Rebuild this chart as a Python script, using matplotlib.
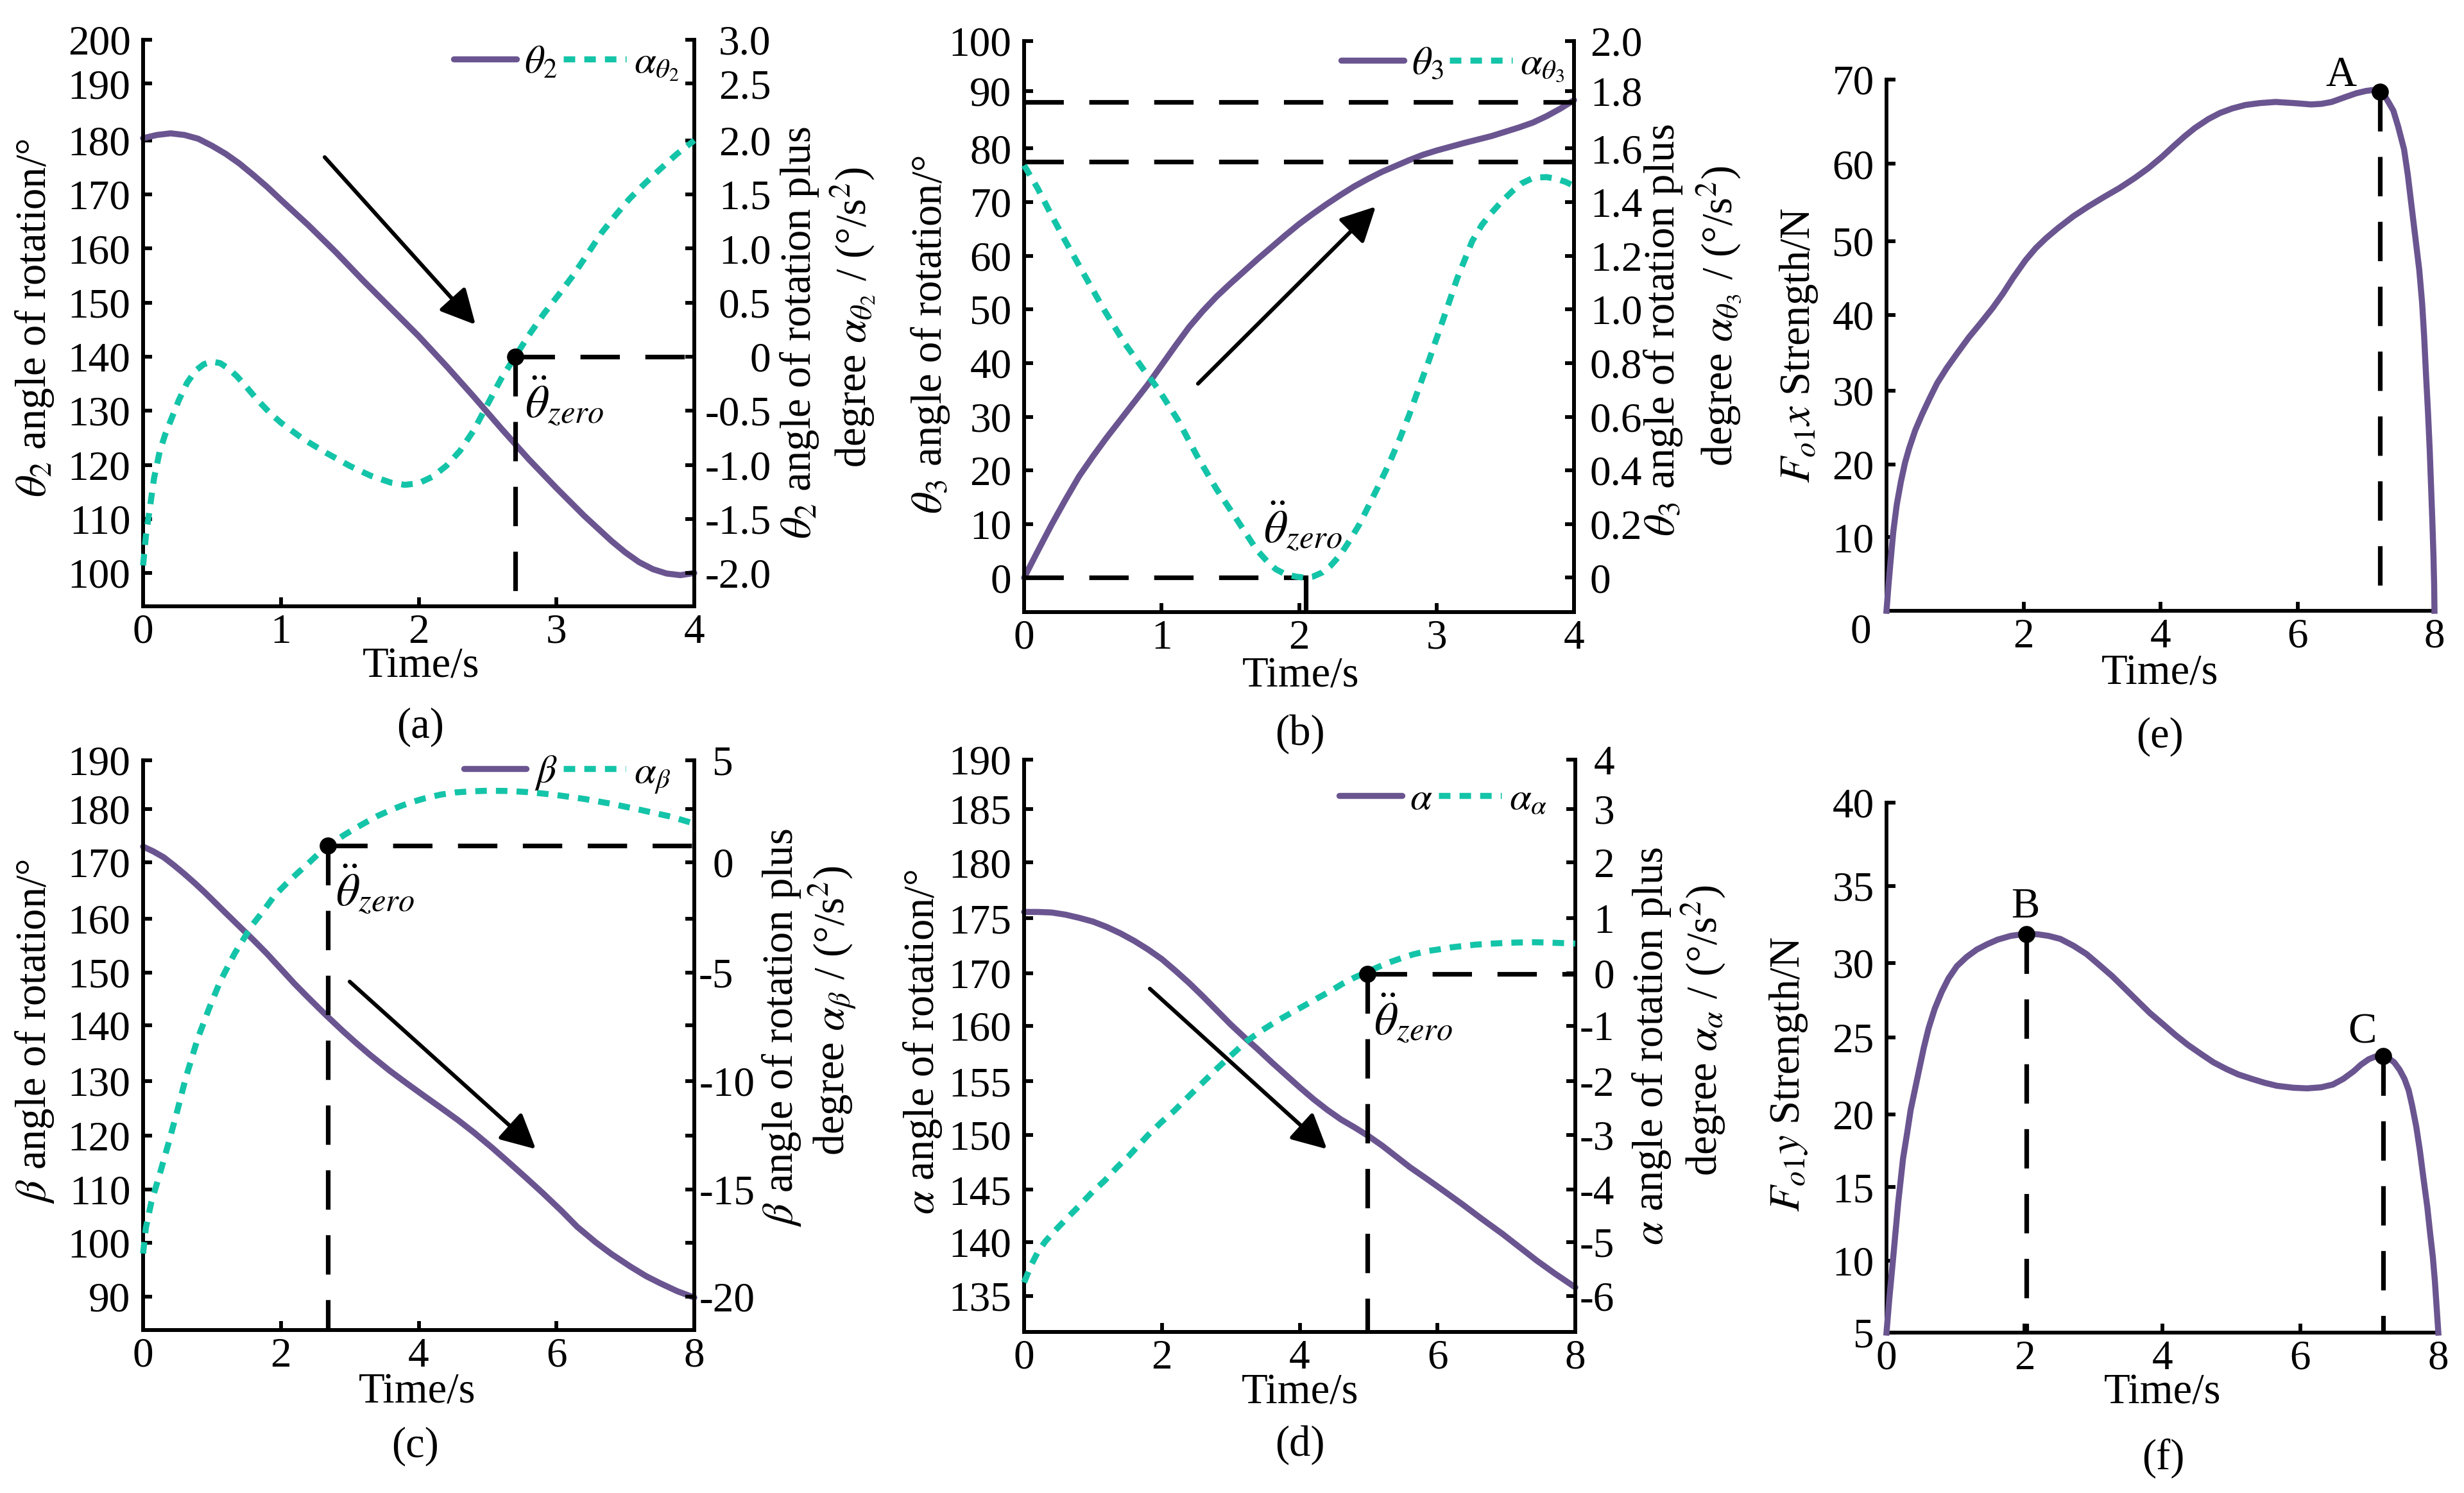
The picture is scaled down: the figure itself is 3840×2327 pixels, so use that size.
#!/usr/bin/env python
# -*- coding: utf-8 -*-
"""Six panels: joint angles with angular acceleration, and the two force curves."""
import matplotlib
matplotlib.use('Agg')
import matplotlib.pyplot as plt

plt.rcParams['font.family'] = ['Liberation Serif', 'DejaVu Sans']
plt.rcParams['mathtext.fontset'] = 'stix'

W, H = 3840, 2327
PURPLE = '#6A5590'
TEAL = '#14C4A8'
TICK_FS = 23.5
LABEL_FS = 24

# ============================================================
# data
# ============================================================
a_t = [0, .1, .2, .3, .4, .5, .6, .7, .8, .9, 1.0, 1.2, 1.4, 1.6, 1.8, 2.0, 2.2, 2.4, 2.6, 2.8, 3.0, 3.2, 3.4, 3.5, 3.6, 3.7, 3.8, 3.9, 4]
a_theta = [180.4, 181, 181.3, 181, 180.3, 179, 177.5, 175.7, 173.6, 171.4, 169, 164.3, 159.3, 154, 148.9, 143.8, 138.3, 132.6, 126.7, 121, 115.7, 110.6, 105.9, 103.8, 102, 100.7, 99.9, 99.6, 100]
a_acc_t = [0, .02, .05, .08, .12, .16, .21, .26, .32, .38, .44, .5, .56, .62, .68, .75, .83, .92, 1.0, 1.16, 1.33, 1.5, 1.65, 1.8, 1.9,
           2.0, 2.1, 2.2, 2.3, 2.4, 2.5, 2.6, 2.7, 2.8, 2.91, 3.02, 3.12, 3.22, 3.33, 3.43, 3.53, 3.64, 3.74, 3.87, 4]
a_acc = [-1.93, -1.66, -1.39, -1.12, -.88, -.72, -.56, -.40, -.24, -.13, -.07, -.045, -.06, -.11, -.18, -.28, -.40, -.52, -.61, -.76, -.89, -1.01, -1.10, -1.165, -1.185,
         -1.17, -1.11, -1.01, -.87, -.68, -.44, -.2, 0, .2, .4, .58, .75, .94, 1.15, 1.31, 1.46, 1.6, 1.72, 1.87, 2.0]

b_t = [0, .1, .2, .3, .4, .5, .6, .7, .8, .9, 1.0, 1.1, 1.2, 1.3, 1.4, 1.5, 1.6, 1.7, 1.8, 1.9, 2.0, 2.1, 2.2, 2.3, 2.4, 2.5, 2.6, 2.7, 2.8, 2.9, 3.0, 3.2, 3.4, 3.6, 3.7, 3.8, 3.9, 4]
b_theta = [0, 5, 9.9, 14.5, 18.9, 22.6, 26.1, 29.4, 32.7, 36, 39.6, 43.2, 46.7, 49.7, 52.4, 54.8, 57.1, 59.4, 61.6, 63.8, 65.9, 67.8, 69.6, 71.3, 72.9, 74.3, 75.6, 76.7, 77.8, 78.8, 79.6, 81, 82.3, 83.9, 84.8, 86, 87.4, 89]
b_acc_t = [0, .1, .2, .3, .44, .58, .73, .87, .98, 1.12, 1.26, 1.4, 1.55, 1.69, 1.77, 1.83, 1.9, 1.98, 2.05, 2.1, 2.17, 2.23, 2.3, 2.37, 2.44, 2.51, 2.58, 2.655, 2.73,
           2.8, 2.87, 2.94, 3.05, 3.15, 3.26, 3.33, 3.4, 3.47, 3.55, 3.62, 3.69, 3.75, 3.8, 3.87, 3.94, 4]
b_acc = [1.537, 1.45, 1.35, 1.255, 1.127, 1.0, .875, .775, .70, .587, .452, .33, .215, .105, .06, .032, .013, .004, 0, .004, .02, .045, .085, .14, .2, .272, .345, .425, .515,
         .605, .705, .803, .965, 1.115, 1.255, 1.315, 1.36, 1.40, 1.44, 1.47, 1.487, 1.492, 1.493, 1.487, 1.475, 1.46]

c_t = [0, .15, .3, .45, .6, .75, .9, 1.05, 1.2, 1.4, 1.6, 1.8, 2.0, 2.2, 2.4, 2.66, 2.9, 3.1, 3.3, 3.58, 3.8, 4.08, 4.3, 4.57, 4.8, 5.07, 5.3, 5.57, 5.8, 6.07, 6.3, 6.57, 6.8, 7.07, 7.3, 7.5, 7.75, 8]
c_beta = [173.9, 173, 171.9, 170.4, 168.8, 167.1, 165.3, 163.4, 161.5, 159, 156.5, 153.9, 151.1, 148.3, 145.7, 142.4, 139.5, 137.2, 135, 132.1, 130.0, 127.4, 125.4, 122.9, 120.6, 117.7, 115.1, 112, 109.3, 106, 103, 100.1, 97.9, 95.6, 93.8, 92.5, 91, 89.8]
c_acc_t = [0, .04, .12, .25, .37, .5, .62, .79, .96, 1.12, 1.33, 1.58, 1.75, 1.91, 2.08, 2.245, 2.4, 2.58, 2.75, 2.91, 3.08, 3.24, 3.4, 3.58, 3.75, 3.91,
           4.1, 4.32, 4.53, 4.74, 5.0, 5.3, 5.57, 5.8, 6, 6.4, 6.8, 7.2, 7.65, 8]
c_acc = [-18, -16.8, -15.6, -14.2, -12.85, -11.3, -9.8, -8.0, -6.55, -5.3, -4.0, -2.7, -2.0, -1.3, -.75, -.25, .2, .75, 1.15, 1.5, 1.83, 2.12, 2.4, 2.66, 2.88, 3.06,
         3.24, 3.4, 3.5, 3.55, 3.58, 3.57, 3.52, 3.45, 3.38, 3.2, 2.97, 2.7, 2.38, 2.05]

# the printed scale of (d) jumps from 160 to 170, so its values are kept on the even scale below
d_t = [0, .2, .4, .6, .8, 1.0, 1.2, 1.4, 1.6, 1.8, 2.0, 2.2, 2.4, 2.6, 2.8, 3.0, 3.2, 3.4, 3.6, 3.8, 4.0, 4.2, 4.4, 4.6, 4.8, 5.0, 5.2, 5.4, 5.6, 5.87, 6.1, 6.37, 6.65, 6.94, 7.2, 7.44, 7.7, 8]
d_alpha = [170.8, 170.8, 170.75, 170.55, 170.25, 169.9, 169.4, 168.8, 168.1, 167.3, 166.4, 165.3, 164.15, 162.9, 161.6, 160.3, 159.1, 157.95, 156.75, 155.6, 154.45, 153.35, 152.35, 151.45, 150.7, 149.9, 149.0, 148.0, 147, 145.8, 144.75, 143.5, 142.15, 140.8, 139.5, 138.3, 137.1, 135.8]
d_acc_t = [0, .1, .2, .31, .45, .6, .8, 1.0, 1.17, 1.35, 1.52, 1.8, 2.0, 2.17, 2.45, 2.65, 2.8, 3.0, 3.23, 3.45, 3.66, 3.88, 4.09, 4.27, 4.44, 4.62, 4.8, 4.98,
           5.15, 5.3, 5.48, 5.65, 5.85, 6.01, 6.2, 6.37, 6.55, 6.72, 6.95, 7.15, 7.4, 7.6, 8]
d_acc = [-5.75, -5.43, -5.18, -4.98, -4.78, -4.58, -4.32, -4.05, -3.85, -3.6, -3.39, -3.0, -2.75, -2.56, -2.2, -1.95, -1.76, -1.52, -1.25, -1.05, -.88, -.72, -.57, -.44, -.32, -.18, -.06, .04,
         .14, .22, .3, .37, .43, .46, .5, .525, .55, .565, .58, .59, .595, .59, .57]

e_t = [0, .03, .06, .1, .15, .21, .27, .33, .42, .52, .63, .74, .88, 1.03, 1.2, 1.4, 1.55, 1.7, 1.85, 2.03, 2.18, 2.33, 2.5, 2.73, 2.95, 3.17, 3.4, 3.62, 3.82, 4.02,
       4.2, 4.35, 4.5, 4.7, 4.87, 5.05, 5.24, 5.45, 5.68, 5.95, 6.2, 6.35, 6.5, 6.7, 6.86, 7.0, 7.1, 7.2, 7.27, 7.33, 7.4, 7.47, 7.556, 7.61, 7.667, 7.73, 7.778, 7.82, 7.85, 7.877, 7.904, 7.93, 7.948, 7.968, 7.985, 7.995, 8]
e_force = [0, 3.5, 6.6, 10.5, 14, 17, 19.5, 21.4, 23.8, 25.9, 28, 30, 32, 33.9, 36, 38.2, 39.9, 41.8, 43.9, 46.2, 47.8, 49.1, 50.4, 52, 53.3, 54.5, 55.7, 57, 58.3, 59.8,
           61.3, 62.5, 63.6, 64.8, 65.6, 66.2, 66.65, 66.9, 67.05, 66.9, 66.72, 66.8, 67.05, 67.7, 68.2, 68.5, 68.62, 68.4, 67.9, 67, 65.9, 63.8, 60.8, 57.5, 53.2, 48.5, 44.9, 40.5, 36, 31, 26.4, 21.3, 16.9, 12, 7.3, 3.5, 0]

f_t = [0, .04, .1, .17, .24, .3, .35, .41, .47, .54, .61, .7, .8, .9, 1.02, 1.16, 1.31, 1.46, 1.61, 1.8, 2.03, 2.2, 2.35, 2.52, 2.71, 2.9, 3.08, 3.27, 3.45, 3.64, 3.82, 4.0, 4.19, 4.37, 4.56, 4.74, 4.93,
       5.1, 5.3, 5.48, 5.66, 5.9, 6.1, 6.3, 6.47, 6.62, 6.77, 6.88, 6.99, 7.08, 7.18, 7.27, 7.36, 7.44, 7.51, 7.57, 7.62, 7.68, 7.73, 7.79, 7.84, 7.88, 7.92, 7.95, 7.975, 8]
f_force = [5, 7.2, 10.1, 13.6, 16.5, 18.2, 19.7, 21, 22.3, 23.8, 25.1, 26.4, 27.5, 28.4, 29.2, 29.8, 30.3, 30.65, 30.95, 31.2, 31.35, 31.3, 31.2, 31, 30.55, 30, 29.3, 28.55, 27.75, 26.9, 26.1, 25.4, 24.65, 24, 23.4, 22.85, 22.4,
           22.05, 21.75, 21.5, 21.3, 21.17, 21.13, 21.2, 21.38, 21.75, 22.25, 22.7, 23.05, 23.22, 23.28, 23.15, 22.85, 22.35, 21.75, 21, 20, 18.6, 17.1, 15, 13.3, 11.6, 10, 8.4, 6.7, 5]

a_yticklabels = ['100', '110', '120', '130', '140', '150', '160', '170', '180', '190', '200']
a_rlabels = ['-2.0', '-1.5', '-1.0', '-0.5', '0', '0.5', '1.0', '1.5', '2.0', '2.5', '3.0']
b_yticklabels = ['0', '10', '20', '30', '40', '50', '60', '70', '80', '90', '100']
b_rlabels = ['0', '0.2', '0.4', '0.6', '0.8', '1.0', '1.2', '1.4', '1.6', '1.8', '2.0']
c_yticklabels = ['90', '100', '110', '120', '130', '140', '150', '160', '170', '180', '190']
c_rlabels = ['-20', '', '-15', '', '-10', '', '-5', '', '0', '', '5']
d_yticklabels = ['135', '140', '145', '150', '155', '160', '170', '175', '180', '185', '190']
d_rlabels = ['-6', '-5', '-4', '-3', '-2', '-1', '0', '1', '2', '3', '4']
e_yticklabels = ['10', '20', '30', '40', '50', '60', '70']
f_yticklabels = ['5', '10', '15', '20', '25', '30', '35', '40']

# where the ticks sit on each scale (the printed ones are not quite even)
a_ypos = [100, 110, 120, 130, 140, 150, 160, 170, 180, 190.5, 198.6]
b_ypos = [0, 10, 20, 30, 40, 50, 60, 70, 80, 90.7, 100]
c_ypos = [90, 100, 110, 120, 130.2, 140.6, 150.4, 160.5, 171, 180.9, 190]
d_ypos = [135, 140, 144.9, 150, 155, 160.2, 165.1, 170.2, 175.4, 180.4, 185]
e_ypos = [9.7, 19.3, 29, 39, 48.7, 58.9, 70]
f_ypos = [5, 9.75, 14.6, 19.4, 24.5, 29.4, 34.5, 40]


# ============================================================
# helpers: layout was measured in image pixels
# ============================================================
def fx(px):
    return px / W


def fy(py):
    return 1 - py / H


def make_axes(left, right, top, bottom, xlim, ylim, xticks):
    ax = fig.add_axes([fx(left), fy(bottom), fx(right - left), (bottom - top) / H])
    ax.set_xlim(*xlim)
    ax.set_ylim(*ylim)
    ax.set_xticks(xticks)
    ax.spines['top'].set_visible(False)
    for s in ax.spines.values():
        s.set_linewidth(2.1)
    ax.tick_params(direction='in', length=5, width=2.1, labelsize=TICK_FS, pad=7)
    ax.tick_params(axis='x', pad=4)
    return ax


def make_twin(ax, to_right, ylim_left, ticks, labels):
    ax2 = ax.twinx()
    ax2.set_ylim(to_right(ylim_left[0]), to_right(ylim_left[1]))
    ax2.set_yticks([to_right(p) for p in ticks])
    ax2.set_yticklabels(labels)
    ax2.spines['top'].set_visible(False)
    for s in ax2.spines.values():
        s.set_linewidth(2.1)
    ax2.tick_params(direction='in', length=5, width=2.1, labelsize=TICK_FS)
    return ax2


def put_text(px, py, s, fs=LABEL_FS, rot=0):
    fig.text(fx(px), fy(py), s, fontsize=fs, rotation=rot, ha='center', va='center')


def put_arrow(x0, y0, x1, y1):
    ax_top = fig.axes[-1]
    ax_top.annotate('', xy=(fx(x1), fy(y1)), xytext=(fx(x0), fy(y0)),
                    xycoords='figure fraction', textcoords='figure fraction',
                    arrowprops=dict(arrowstyle='-|>,head_length=0.55,head_width=0.28', color='black',
                                    lw=2.2, mutation_scale=30, shrinkA=0, shrinkB=0))


def two_lines(ax, ax2, t, y, t2, y2, lab1, lab2, lx, ly):
    l1, = ax.plot(t, y, color=PURPLE, lw=3.4, solid_capstyle='round', solid_joinstyle='round', clip_on=False, zorder=3)
    l2, = ax2.plot(t2, y2, color=TEAL, lw=3.4, dashes=(1.9, 1.5), clip_on=False, zorder=3)
    ax2.legend([l1, l2], [lab1, lab2], loc='center', bbox_to_anchor=(fx(lx), fy(ly)),
               bbox_transform=fig.transFigure, ncol=2, frameon=False, fontsize=22,
               handlelength=1.6, handletextpad=0.2, columnspacing=0.15, borderpad=0, borderaxespad=0)


DASH = dict(color='black', lw=2.6, dashes=(8.5, 5.5), zorder=4)

fig = plt.figure(figsize=(W / 200, H / 200), dpi=200)

# ============================================================
# (a)
# ============================================================
ylim = (93.84, 198.6)
ax = make_axes(223, 1082, 62, 945, (0, 4), ylim, [0, 1, 2, 3, 4])
ax.set_yticks(a_ypos)
ax.set_yticklabels(a_yticklabels)
ax2 = make_twin(ax, lambda p: -2 + (p - 100) / 20, ylim, a_ypos, a_rlabels)
plt.setp(ax2.get_yticklabels(), ha='right')
ax2.tick_params(pad=43)
two_lines(ax, ax2, a_t, a_theta, a_acc_t, a_acc, r'$\theta_2$', r'$\alpha_{\theta_2}$', 883, 100)
ax2.plot([2.7, 2.7], [0, -2.308], **DASH)
ax2.plot([2.7, 4], [0, 0], **DASH)
ax2.plot(2.7, 0, 'o', color='black', ms=8.6, zorder=6, clip_on=False)
put_text(880, 625, r'$\ddot{\theta}_{zero}$', 26)
put_text(54, 495, r'$\theta_2$ angle of rotation/°', rot=90)
put_text(1246, 519, r'$\theta_2$ angle of rotation plus', rot=90)
put_text(1330, 495, r'degree $\alpha_{\theta_2}$ / (°/s$^2$)', rot=90)
put_text(656, 1039, 'Time/s')
put_text(655, 1133, '(a)')
put_arrow(506, 245, 741, 506)

# ============================================================
# (b)
# ============================================================
ylim = (-6.4, 100)
ax = make_axes(1596, 2453, 64, 954, (0, 4), ylim, [0, 1, 2, 3, 4])
ax.set_yticks(b_ypos)
ax.set_yticklabels(b_yticklabels)
ax2 = make_twin(ax, lambda p: p / 50, ylim, b_ypos, b_rlabels)
ax2.tick_params(pad=9)
two_lines(ax, ax2, b_t, b_theta, b_acc_t, b_acc, r'$\theta_3$', r'$\alpha_{\theta_3}$', 2264, 102)
ax.plot([0, 4], [88.7, 88.7], **DASH)
ax.plot([0, 4], [77.5, 77.5], **DASH)
ax.plot([0, 2.05], [0, 0], **DASH)
ax.plot([2.05, 2.05], [0, -6.4], color='black', lw=2.6, zorder=4)
put_text(2031, 820, r'$\ddot{\theta}_{zero}$', 26)
put_text(1450, 521, r'$\theta_3$ angle of rotation/°', rot=90)
put_text(2592, 515, r'$\theta_3$ angle of rotation plus', rot=90)
put_text(2679, 493, r'degree $\alpha_{\theta_3}$ / (°/s$^2$)', rot=90)
put_text(2027, 1054, 'Time/s')
put_text(2026, 1144, '(b)')
put_arrow(1867, 598, 2144, 322)

# ============================================================
# (e)
# ============================================================
ax = make_axes(2940, 3794, 124, 952, (0, 8), (0, 70), [0, 2, 4, 6, 8])
ax.spines['right'].set_visible(False)
ax.set_yticks(e_ypos)
ax.set_yticklabels(e_yticklabels)
ax.set_xticklabels(['', '2', '4', '6', '8'])
ax.plot(e_t, e_force, color=PURPLE, lw=3.4, solid_joinstyle='round', clip_on=False, zorder=3)
ax.plot([7.2, 7.2], [68.4, 0], **DASH)
ax.plot(7.2, 68.4, 'o', color='black', ms=8.6, zorder=6, clip_on=False)
put_text(2900, 986, '0', TICK_FS)
put_text(3648, 117, 'A')
put_text(2804, 538, r'$F_{o1}x$ Strength/N', rot=90)
put_text(3366, 1050, 'Time/s')
put_text(3366, 1148, '(e)')

# ============================================================
# (c)
# ============================================================
ylim = (83.74, 190)
ax = make_axes(223, 1082, 1185, 2073, (0, 8), ylim, [0, 2, 4, 6, 8])
ax.set_yticks(c_ypos)
ax.set_yticklabels(c_yticklabels)
ax2 = make_twin(ax, lambda p: -20 + (p - 90) / 4, ylim, c_ypos, c_rlabels)
plt.setp(ax2.get_yticklabels(), ha='right')
for tick, lab in zip(ax2.yaxis.get_major_ticks(), c_rlabels):
    tick.set_pad(34 if len(lab) == 3 else 22)
two_lines(ax, ax2, c_t, c_beta, c_acc_t, c_acc, r'$\beta$', r'$\alpha_{\beta}$', 884, 1207)
ax2.plot([2.68, 2.68], [1.03, -21.56], **DASH)
ax2.plot([2.68, 8], [1.03, 1.03], **DASH)
ax2.plot(2.68, 1.03, 'o', color='black', ms=8.6, zorder=6, clip_on=False)
put_text(585, 1386, r'$\ddot{\theta}_{zero}$', 26)
put_text(54, 1607, r'$\beta$ angle of rotation/°', rot=90)
put_text(1218, 1602, r'$\beta$ angle of rotation plus', rot=90)
put_text(1297, 1575, r'degree $\alpha_{\beta}$ / (°/s$^2$)', rot=90)
put_text(650, 2170, 'Time/s')
put_text(647, 2254, '(c)')
put_arrow(545, 1530, 835, 1791)

# ============================================================
# (d)
# ============================================================
ylim = (131.64, 185)
ax = make_axes(1596, 2455, 1184, 2076, (0, 8), ylim, [0, 2, 4, 6, 8])
ax.set_yticks(d_ypos)
ax.set_yticklabels(d_yticklabels)
ax2 = make_twin(ax, lambda p: -6 + (p - 135) / 5, ylim, d_ypos, d_rlabels)
plt.setp(ax2.get_yticklabels(), ha='right')
ax2.tick_params(pad=22)
two_lines(ax, ax2, d_t, d_alpha, d_acc_t, d_acc, r'$\alpha$', r'$\alpha_{\alpha}$', 2249, 1246)
ax2.plot([4.98, 4.98], [0, -6.67], **DASH)
ax2.plot([4.98, 8], [0, 0], **DASH)
ax2.plot(4.98, 0, 'o', color='black', ms=8.6, zorder=6, clip_on=False)
put_text(2203, 1587, r'$\ddot{\theta}_{zero}$', 26)
put_text(1438, 1624, r'$\alpha$ angle of rotation/°', rot=90)
put_text(2574, 1630, r'$\alpha$ angle of rotation plus', rot=90)
put_text(2655, 1606, r'degree $\alpha_{\alpha}$ / (°/s$^2$)', rot=90)
put_text(2026, 2171, 'Time/s')
put_text(2026, 2252, '(d)')
put_arrow(1792, 1541, 2068, 1791)

# ============================================================
# (f)
# ============================================================
ax = make_axes(2940, 3800, 1251, 2077, (0, 8), (5, 40), [0, 2, 4, 6, 8])
ax.spines['right'].set_visible(False)
ax.set_yticks(f_ypos)
ax.set_yticklabels(f_yticklabels)
ax.plot(f_t, f_force, color=PURPLE, lw=3.4, solid_joinstyle='round', clip_on=False, zorder=3)
ax.plot([2.03, 2.03], [31.33, 5], **DASH)
ax.plot([7.2, 7.2], [23.28, 5], **DASH)
ax.plot([2.03, 7.2], [31.33, 23.28], 'o', color='black', ms=8.6, zorder=6, clip_on=False)
put_text(3156, 1414, 'B')
put_text(3681, 1609, 'C')
put_text(2788, 1674, r'$F_{o1}y$ Strength/N', rot=90)
put_text(3370, 2171, 'Time/s')
put_text(3371, 2273, '(f)')

fig.savefig('out.png', dpi=200, facecolor='white')
plt.close()
